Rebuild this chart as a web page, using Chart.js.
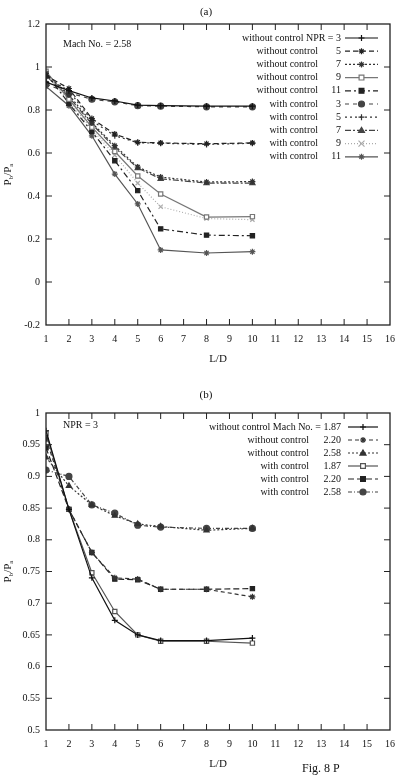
<!DOCTYPE html>
<html>
<head>
<meta charset="utf-8">
<script src="https://cdn.jsdelivr.net/npm/chart.js@4.4.0/dist/chart.umd.min.js"></script>
<style>
  body { margin: 0; background: #fff; width: 403px; height: 775px; overflow: hidden; position: relative; font-family: "Liberation Serif", serif; }
  .box { position: absolute; left: 0; }
  #fig { position: absolute; left: 302px; top: 761px; font-size: 12px; color: #111; }
</style>
</head>
<body>
<div class="box" style="top:0"><canvas id="chartA" width="403" height="375"></canvas></div>
<div class="box" style="top:380px"><canvas id="chartB" width="403" height="395"></canvas></div>
<div id="fig">Fig. 8 P</div>
<script>
// L/D stations
const ld = [1, 2, 3, 4, 5, 6, 8, 10];

// (a) Mach No. = 2.58, Pb/Pa against L/D for each NPR
const npr = ['3', '5', '7', '9', '11'];
const woNpr3  = [0.93, 0.89, 0.856, 0.842, 0.823, 0.820, 0.818, 0.818];
const woNpr5  = [0.96, 0.90, 0.760, 0.688, 0.650, 0.647, 0.643, 0.647];
const woNpr7  = [0.97, 0.87, 0.740, 0.634, 0.535, 0.488, 0.465, 0.467];
const woNpr9  = [0.98, 0.85, 0.720, 0.607, 0.493, 0.409, 0.302, 0.304];
const woNpr11 = [0.97, 0.83, 0.700, 0.564, 0.425, 0.247, 0.218, 0.215];
const wNpr3   = [0.92, 0.88, 0.850, 0.838, 0.820, 0.818, 0.815, 0.815];
const wNpr5   = [0.95, 0.89, 0.750, 0.680, 0.648, 0.645, 0.640, 0.645];
const wNpr7   = [0.96, 0.86, 0.735, 0.625, 0.530, 0.480, 0.460, 0.460];
const wNpr9   = [0.97, 0.84, 0.710, 0.590, 0.460, 0.350, 0.295, 0.290];
const wNpr11  = [0.91, 0.82, 0.680, 0.502, 0.363, 0.149, 0.135, 0.141];

// (b) NPR = 3, Pb/Pa against L/D for each Mach No.
const mach = ['1.87', '2.20', '2.58'];
const woM187 = [0.972, 0.848, 0.740, 0.673, 0.650, 0.641, 0.641, 0.645];
const woM220 = [0.960, 0.848, 0.780, 0.740, 0.738, 0.722, 0.722, 0.710];
const woM258 = [0.930, 0.885, 0.855, 0.838, 0.825, 0.821, 0.815, 0.818];
const wM187  = [0.968, 0.848, 0.748, 0.687, 0.650, 0.640, 0.640, 0.637];
const wM220  = [0.945, 0.848, 0.780, 0.738, 0.737, 0.722, 0.722, 0.723];
const wM258  = [0.910, 0.900, 0.855, 0.842, 0.823, 0.820, 0.818, 0.818];

const serif = '"Liberation Serif", "DejaVu Serif", serif';

function series(label, num, vals, color, dash, point, filled) {
  return {
    label: label, num: num,
    data: ld.map((x, i) => ({ x: x, y: vals[i] })),
    showLine: true,
    borderColor: color,
    borderWidth: 1.2,
    borderDash: dash,
    pointStyle: point,
    pointRadius: 3,
    pointBorderWidth: 1.2,
    pointBorderColor: color,
    pointBackgroundColor: filled ? color : '#fff',
    fill: false
  };
}

function drawMark(ctx, ds, x, y) {
  const r = 3;
  ctx.save();
  ctx.strokeStyle = ds.pointBorderColor;
  ctx.fillStyle = ds.pointBackgroundColor;
  ctx.lineWidth = 1.2;
  ctx.setLineDash([]);
  ctx.beginPath();
  if (ds.pointStyle === 'cross' || ds.pointStyle === 'star') {
    ctx.moveTo(x - r, y); ctx.lineTo(x + r, y);
    ctx.moveTo(x, y - r); ctx.lineTo(x, y + r);
    if (ds.pointStyle === 'star') {
      ctx.moveTo(x - r * 0.7, y - r * 0.7); ctx.lineTo(x + r * 0.7, y + r * 0.7);
      ctx.moveTo(x - r * 0.7, y + r * 0.7); ctx.lineTo(x + r * 0.7, y - r * 0.7);
    }
    ctx.stroke();
  } else if (ds.pointStyle === 'crossRot') {
    ctx.moveTo(x - r, y - r); ctx.lineTo(x + r, y + r);
    ctx.moveTo(x - r, y + r); ctx.lineTo(x + r, y - r);
    ctx.stroke();
  } else if (ds.pointStyle === 'rect') {
    ctx.rect(x - r * 0.8, y - r * 0.8, r * 1.6, r * 1.6);
    ctx.fill(); ctx.stroke();
  } else if (ds.pointStyle === 'triangle') {
    ctx.moveTo(x, y - r); ctx.lineTo(x + r, y + r * 0.7); ctx.lineTo(x - r, y + r * 0.7); ctx.closePath();
    ctx.fill(); ctx.stroke();
  } else {
    ctx.arc(x, y, r, 0, Math.PI * 2);
    ctx.fill(); ctx.stroke();
  }
  ctx.restore();
}

const gnuplotFrame = {
  id: 'gnuplotFrame',
  afterDraw(chart, args, o) {
    const ctx = chart.ctx, a = chart.chartArea;
    const xs = chart.scales.x, ys = chart.scales.y;
    ctx.save();
    ctx.strokeStyle = '#222';
    ctx.lineWidth = 1.3;
    ctx.setLineDash([]);
    ctx.strokeRect(a.left, a.top, a.right - a.left, a.bottom - a.top);
    ctx.lineWidth = 1;
    ctx.beginPath();
    xs.ticks.forEach(t => {
      const px = xs.getPixelForValue(t.value);
      if (px <= a.left + 1 || px >= a.right - 1) return;
      ctx.moveTo(px, a.bottom); ctx.lineTo(px, a.bottom - 6);
      ctx.moveTo(px, a.top); ctx.lineTo(px, a.top + 6);
    });
    ys.ticks.forEach(t => {
      const py = ys.getPixelForValue(t.value);
      if (py <= a.top + 1 || py >= a.bottom - 1) return;
      ctx.moveTo(a.left, py); ctx.lineTo(a.left + 6, py);
      ctx.moveTo(a.right, py); ctx.lineTo(a.right - 6, py);
    });
    ctx.stroke();

    ctx.fillStyle = '#111';
    ctx.textBaseline = 'middle';
    ctx.font = '11px ' + serif;
    ctx.textAlign = 'center';
    ctx.fillText(o.title, o.titleX, o.titleY);
    ctx.font = '10px ' + serif;
    ctx.textAlign = 'left';
    ctx.fillText(o.note, a.left + 17, o.noteY);

    // y axis label Pb/Pa, rotated
    ctx.save();
    ctx.translate(8, (a.top + a.bottom) / 2);
    ctx.rotate(-Math.PI / 2);
    const parts = [['P', 0, 11], ['b', 3, 7], ['/', 0, 11], ['P', 0, 11], ['a', 3, 7]];
    let w = 0;
    parts.forEach(p => { ctx.font = p[2] + 'px ' + serif; w += ctx.measureText(p[0]).width; });
    let cx = -w / 2;
    parts.forEach(p => {
      ctx.font = p[2] + 'px ' + serif;
      ctx.fillText(p[0], cx, p[1]);
      cx += ctx.measureText(p[0]).width;
    });
    ctx.restore();

    // legend, gnuplot style: label, value, sample
    ctx.font = '10px ' + serif;
    chart.data.datasets.forEach((ds, i) => {
      const y = o.legTop + i * o.legStep;
      ctx.fillStyle = '#111';
      ctx.textAlign = 'right';
      if (i === 0) {
        ctx.fillText(ds.label + ' ' + o.key + ' ' + ds.num, o.numX, y);
      } else {
        ctx.fillText(ds.label, o.labelX, y);
        ctx.fillText(ds.num, o.numX, y);
      }
      ctx.strokeStyle = ds.borderColor;
      ctx.lineWidth = ds.borderWidth;
      ctx.setLineDash(ds.borderDash || []);
      ctx.beginPath();
      ctx.moveTo(o.sampleX0, y); ctx.lineTo(o.sampleX1, y);
      ctx.stroke();
      drawMark(ctx, ds, (o.sampleX0 + o.sampleX1) / 2, y);
    });
    ctx.restore();
  }
};

function makeOptions(ymin, ymax, step, dp, xHeight, xPad, titlePad, frame) {
  return {
    responsive: false,
    animation: false,
    layout: { padding: { left: 0, right: 11, top: frame.top, bottom: 0 } },
    plugins: { legend: { display: false }, tooltip: { enabled: false }, gnuplotFrame: frame },
    scales: {
      x: {
        type: 'linear', min: 1, max: 16,
        border: { display: false },
        grid: { display: false, drawTicks: false },
        ticks: { stepSize: 1, padding: xPad, color: '#111', font: { family: serif, size: 10 } },
        title: { display: true, text: 'L/D', color: '#111', font: { family: serif, size: 11 }, padding: { top: 0, bottom: titlePad } },
        afterFit(s) { s.height = xHeight; }
      },
      y: {
        min: ymin, max: ymax,
        border: { display: false },
        grid: { display: false, drawTicks: false },
        ticks: {
          stepSize: step, padding: 6, color: '#111', font: { family: serif, size: 10 },
          callback: v => String(parseFloat(v.toFixed(dp)))
        },
        afterFit(s) { s.width = 46; }
      }
    }
  };
}

new Chart(document.getElementById('chartA'), {
  type: 'scatter',
  plugins: [gnuplotFrame],
  data: {
    datasets: [
      series('without control NPR', npr[0], woNpr3, '#111', [], 'cross', true),
      series('without control', npr[1], woNpr5, '#222', [5, 3], 'star', true),
      series('without control', npr[2], woNpr7, '#333', [2, 2], 'star', true),
      series('without control', npr[3], woNpr9, '#777', [], 'rect', false),
      series('without control', npr[4], woNpr11, '#222', [6, 3, 2, 3], 'rect', true),
      series('with control', npr[0], wNpr3, '#444', [4, 4], 'circle', true),
      series('with control', npr[1], wNpr5, '#333', [2, 3], 'cross', true),
      series('with control', npr[2], wNpr7, '#444', [6, 2, 2, 2], 'triangle', true),
      series('with control', npr[3], wNpr9, '#aaa', [1, 2], 'crossRot', true),
      series('with control', npr[4], wNpr11, '#555', [], 'star', true)
    ]
  },
  options: makeOptions(-0.2, 1.2, 0.2, 1, 50, 8, 9, {
    top: 24, title: '(a)', titleX: 206, titleY: 12,
    note: 'Mach No. = 2.58', noteY: 44, key: '=',
    legTop: 38, legStep: 13.2, labelX: 318, numX: 341, sampleX0: 345, sampleX1: 378
  })
});

new Chart(document.getElementById('chartB'), {
  type: 'scatter',
  plugins: [gnuplotFrame],
  data: {
    datasets: [
      series('without control Mach No.', mach[0], woM187, '#111', [], 'cross', true),
      series('without control', mach[1], woM220, '#333', [4, 3], 'star', true),
      series('without control', mach[2], woM258, '#333', [2, 2], 'triangle', true),
      series('with control', mach[0], wM187, '#555', [], 'rect', false),
      series('with control', mach[1], wM220, '#222', [6, 3], 'rect', true),
      series('with control', mach[2], wM258, '#444', [4, 2, 1, 2], 'circle', true)
    ]
  },
  options: makeOptions(0.5, 1, 0.05, 2, 45, 8, 4, {
    top: 33, title: '(b)', titleX: 206, titleY: 15,
    note: 'NPR = 3', noteY: 45, key: '=',
    legTop: 47, legStep: 13, labelX: 309, numX: 341, sampleX0: 348, sampleX1: 378
  })
});
</script>
</body>
</html>
